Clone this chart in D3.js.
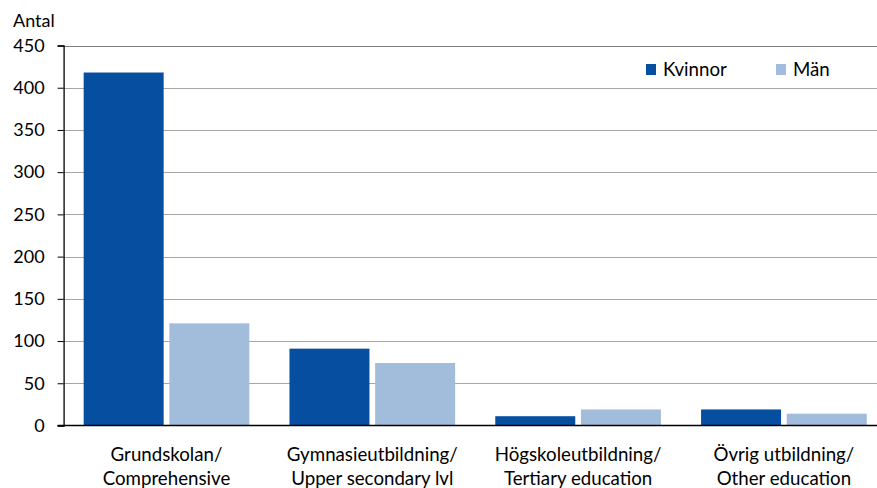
<!DOCTYPE html>
<html>
<head>
<meta charset="utf-8">
<script src="https://cdn.jsdelivr.net/npm/d3@7"></script>
<style>
  html, body { margin: 0; padding: 0; background: #fff; }
  svg { display: block; }
  text { font-family: Lato, "Open Sans", sans-serif; fill: #000; }
</style>
</head>
<body>
<svg id="chart" width="877" height="488"></svg>
<script>
const categories = [
  ["Grundskolan/", "Comprehensive"],
  ["Gymnasieutbildning/", "Upper secondary lvl"],
  ["Högskoleutbildning/", "Tertiary education"],
  ["Övrig utbildning/", "Other education"]
];
const seriesNames = ["Kvinnor", "Män"];
const kvinnor = [418, 91, 11, 19];
const man = [121, 74, 19, 14];
const yTicks = [0, 50, 100, 150, 200, 250, 300, 350, 400, 450];
const yTitle = "Antal";
const colors = ["#054ea0", "#a2bddc"];

const svg = d3.select("#chart");
const plotLeft = 63.6, step = 205.8;
const plotTop = 45.5, plotBottom = 425.5;

const catKeys = categories.map(c => c.join(" "));
const x0 = d3.scaleBand().domain(catKeys).range([plotLeft, plotLeft + step * 4])
  .paddingInner(0.195).paddingOuter(0.0975);
const x1 = d3.scaleBand().domain(seriesNames).range([0, x0.bandwidth()])
  .paddingInner(0.0665);
const y = d3.scaleLinear().domain([0, 450]).range([plotBottom, plotTop]);

// gridlines
svg.append("g").selectAll("line").data(yTicks.filter(d => d > 0)).join("line")
  .attr("x1", plotLeft).attr("x2", 877)
  .attr("y1", d => Math.round(y(d)) + 0.5).attr("y2", d => Math.round(y(d)) + 0.5)
  .attr("stroke", d => d === 450 ? "#7f7f7f" : "#a6a6a6").attr("stroke-width", 1.2);

// bars
const series = [kvinnor, man];
const g = svg.append("g");
categories.forEach((c, i) => {
  seriesNames.forEach((s, j) => {
    const v = series[j][i];
    g.append("rect")
      .attr("x", x0(catKeys[i]) + x1(s))
      .attr("y", y(v))
      .attr("width", x1.bandwidth())
      .attr("height", y(0) - y(v))
      .attr("fill", colors[j]);
  });
});

// y axis
const yAxis = d3.axisLeft(y).tickValues(yTicks).tickSize(6).tickPadding(13);
const ya = svg.append("g").attr("transform", `translate(${plotLeft},0)`).call(yAxis);
ya.select(".domain").attr("stroke", "#000").attr("stroke-width", 1.3);
ya.selectAll(".tick line").attr("stroke", "#000");
ya.selectAll(".tick text").attr("font-family", "Lato, sans-serif").attr("font-size", 18).attr("fill", "#000");

// zero baseline
svg.append("line").attr("x1", plotLeft - 6).attr("x2", 877)
  .attr("y1", y(0)).attr("y2", y(0)).attr("stroke", "#000").attr("stroke-width", 1.5);

// x labels
categories.forEach((c, i) => {
  const cx = x0(catKeys[i]) + x0.bandwidth() / 2;
  svg.append("text").attr("x", cx).attr("y", 461).attr("text-anchor", "middle")
    .attr("font-size", 18.7).text(c[0]);
  svg.append("text").attr("x", cx).attr("y", 485).attr("text-anchor", "middle")
    .attr("font-size", 18.7).text(c[1]);
});

// y title
svg.append("text").attr("x", 13).attr("y", 27).attr("font-size", 18).text(yTitle);

// legend
const legX = [646, 776];
seriesNames.forEach((s, j) => {
  svg.append("rect").attr("x", legX[j]).attr("y", 64).attr("width", 10).attr("height", 11).attr("fill", colors[j]);
  svg.append("text").attr("x", legX[j] + 17).attr("y", 76).attr("font-size", 18.7).text(s);
});
</script>
</body>
</html>
